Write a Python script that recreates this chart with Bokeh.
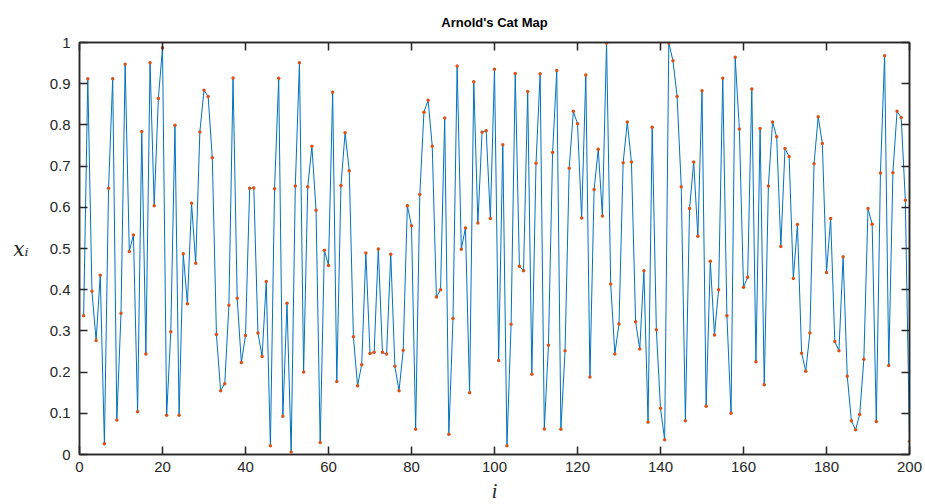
from bokeh.plotting import figure
from bokeh.models import LinearAxis, Range1d, FixedTicker, CustomJSTickFormatter
from bokeh.embed import file_html
from bokeh.resources import INLINE

# ---- data ----
idx = list(range(1, 201))
xi = [
    0.337, 0.912, 0.396, 0.277, 0.435, 0.026, 0.646, 0.912, 0.084, 0.343,
    0.947, 0.493, 0.533, 0.104, 0.784, 0.244, 0.951, 0.604, 0.864, 0.987,
    0.095, 0.298, 0.799, 0.095, 0.487, 0.366, 0.610, 0.464, 0.783, 0.884,
    0.869, 0.720, 0.291, 0.155, 0.172, 0.362, 0.914, 0.379, 0.223, 0.289,
    0.646, 0.647, 0.295, 0.238, 0.420, 0.021, 0.645, 0.913, 0.093, 0.367,
    0.006, 0.652, 0.951, 0.200, 0.650, 0.748, 0.593, 0.029, 0.496, 0.459,
    0.879, 0.177, 0.653, 0.781, 0.689, 0.286, 0.167, 0.218, 0.489, 0.245,
    0.248, 0.499, 0.248, 0.244, 0.486, 0.214, 0.155, 0.253, 0.604, 0.555,
    0.061, 0.631, 0.831, 0.860, 0.748, 0.382, 0.400, 0.817, 0.049, 0.330,
    0.943, 0.498, 0.550, 0.150, 0.905, 0.562, 0.782, 0.786, 0.573, 0.935,
    0.228, 0.752, 0.021, 0.316, 0.925, 0.457, 0.446, 0.881, 0.195, 0.707,
    0.924, 0.062, 0.265, 0.733, 0.932, 0.061, 0.252, 0.695, 0.833, 0.803,
    0.574, 0.921, 0.188, 0.643, 0.741, 0.579, 0.999, 0.414, 0.244, 0.317,
    0.708, 0.807, 0.710, 0.322, 0.256, 0.446, 0.078, 0.794, 0.303, 0.112,
    0.036, 0.999, 0.956, 0.869, 0.650, 0.082, 0.597, 0.710, 0.530, 0.883,
    0.117, 0.469, 0.290, 0.400, 0.913, 0.337, 0.100, 0.964, 0.790, 0.406,
    0.430, 0.887, 0.225, 0.791, 0.169, 0.652, 0.807, 0.771, 0.505, 0.743,
    0.723, 0.427, 0.558, 0.246, 0.202, 0.295, 0.706, 0.820, 0.755, 0.442,
    0.573, 0.274, 0.252, 0.480, 0.190, 0.082, 0.060, 0.097, 0.231, 0.597,
    0.559, 0.080, 0.683, 0.968, 0.216, 0.684, 0.833, 0.818, 0.617, 0.032,
]
x_ticks = [0, 20, 40, 60, 80, 100, 120, 140, 160, 180, 200]
y_ticks = [0, 0.1, 0.2, 0.3, 0.4, 0.5, 0.6, 0.7, 0.8, 0.9, 1]
y_tick_labels = ["0", "0.1", "0.2", "0.3", "0.4", "0.5", "0.6", "0.7", "0.8", "0.9", "1"]
x_tick_labels = [str(t) for t in x_ticks]
title_text = "Arnold's Cat Map"
xlabel_text = "i"
ylabel_text = "x\u1d62"

AX = "#262626"
TICK_FONT = "Liberation Sans"

p = figure(width=925, height=504, output_backend="svg", toolbar_location=None,
           x_range=Range1d(0, 200), y_range=Range1d(0, 1),
           min_border_left=79, min_border_right=16, min_border_top=42, min_border_bottom=50)
p.background_fill_color = "white"
p.border_fill_color = "white"
p.outline_line_color = AX
p.outline_line_width = 1.5
p.xgrid.visible = False
p.ygrid.visible = False

p.title.text = title_text
p.title.align = "center"
p.title.text_font = "Liberation Sans"
p.title.text_font_size = "13px"
p.title.text_font_style = "bold"
p.title.text_color = "black"
p.title.standoff = 25

def style_axis(ax, ticks, labels=None, show=True):
    ax.ticker = FixedTicker(ticks=ticks)
    ax.axis_line_color = AX
    ax.axis_line_width = 1.5
    ax.major_tick_line_color = AX
    ax.major_tick_line_width = 1.5
    ax.major_tick_in = 8
    ax.major_tick_out = 0
    ax.minor_tick_line_color = None
    if show:
        ax.major_label_overrides = {t: l for t, l in zip(ticks, labels)}
        ax.major_label_text_font = TICK_FONT
        ax.major_label_text_font_size = "15px"
        ax.major_label_text_color = AX
        ax.major_label_standoff = 7
    else:
        ax.formatter = CustomJSTickFormatter(code="return ''")
        ax.major_label_standoff = 0

style_axis(p.xaxis[0], x_ticks, x_tick_labels)
style_axis(p.yaxis[0], y_ticks, y_tick_labels)
p.yaxis[0].major_label_standoff = 9
p.xaxis[0].axis_label = xlabel_text
p.xaxis[0].axis_label_text_font = "Liberation Serif"
p.xaxis[0].axis_label_text_font_style = "italic"
p.xaxis[0].axis_label_text_font_size = "20px"
p.xaxis[0].axis_label_text_color = AX
p.xaxis[0].axis_label_standoff = 5

p.yaxis[0].axis_label = ylabel_text
p.yaxis[0].axis_label_orientation = "horizontal"
p.yaxis[0].axis_label_text_font = "DejaVu Serif"
p.yaxis[0].axis_label_text_font_style = "italic"
p.yaxis[0].axis_label_text_font_size = "20px"
p.yaxis[0].axis_label_text_color = AX
p.yaxis[0].axis_label_standoff = 18

top = LinearAxis()
style_axis(top, x_ticks, show=False)
p.add_layout(top, "above")
right = LinearAxis()
style_axis(right, y_ticks, show=False)
p.add_layout(right, "right")

p.line(idx, xi, line_color="#0072BD", line_width=1)
p.scatter(idx, xi, size=3.5, fill_color="#D95319", line_color=None)

open("out.html", "w").write(file_html(p, INLINE))
